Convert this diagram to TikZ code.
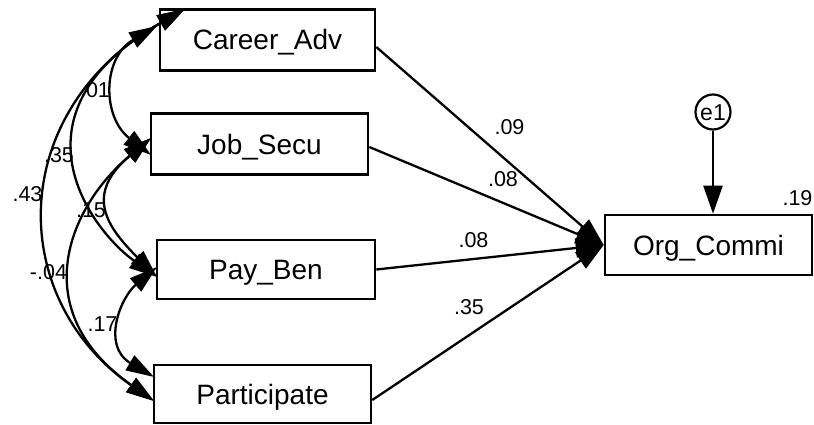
\documentclass[tikz,border=0pt]{standalone}
\usepackage{fontspec}
\setmainfont{Liberation Sans}
\usetikzlibrary{arrows.meta}
\begin{document}
\begin{tikzpicture}[x=1pt,y=-1pt,
  var/.style={draw, line width=2.6pt, rectangle, inner sep=0pt,
    text height=20pt, text depth=0pt, font=\fontsize{28}{30}\selectfont},
  err/.style={draw, line width=2.2pt, circle, inner sep=0pt, minimum size=35pt,
    text height=16.5pt, text depth=0pt, font=\fontsize{23}{25}\selectfont},
  coef/.style={inner sep=0pt, text height=15.5pt, text depth=0pt,
    font=\fontsize{21.5}{24}\selectfont},
  regarrow/.style={line width=2.3pt, -{Triangle[length=28pt,width=19pt]}},
  covarc/.style={line width=2.3pt,
    {Triangle[length=28pt,width=17pt]}-{Triangle[length=28pt,width=17pt]}},
]
\useasboundingbox (0,0) rectangle (814,425);

% observed variables
\node[var, minimum width=215pt, minimum height=61pt] (CA) at (267.5,40) {Career\_Adv};
\node[var, minimum width=217pt, minimum height=61pt] (JS) at (259.5,144) {Job\_Secu};
\node[var, minimum width=218pt, minimum height=59pt] (PB) at (266,269.5) {Pay\_Ben};
\node[var, minimum width=217pt, minimum height=58pt] (PA) at (262.5,394) {Participate};
\node[var, minimum width=207pt, minimum height=60pt] (OC) at (708.5,245) {Org\_Commi};
% error term
\node[err] (E1) at (713,112) {e1};

% regression paths
\draw[regarrow] ([yshift=-7pt]CA.east) -- (OC.west);
\draw[regarrow] ([yshift=-3pt]JS.east) -- (OC.west);
\draw[regarrow] (PB.east) -- (OC.west);
\draw[regarrow] ([yshift=-6pt]PA.east) -- (OC.west);
\draw[regarrow] (E1.south) -- (E1.south |- OC.north);

% end points of the covariance arcs on the left sides
\coordinate (caL) at (157,26);
\coordinate (caH) at (185,9);
\coordinate (jsT) at (151,138);
\coordinate (jsB) at (151,155);
\coordinate (pbT) at (157,267);
\coordinate (pbB) at (157,277);
\coordinate (paT) at (154,377);
\coordinate (paB) at (154,401);

% covariances
\draw[covarc] (caL) .. controls (102,58) and (102,117) .. (jsB);
\draw[covarc] (caH) .. controls (2,114) and (92,231) .. (pbB);
\draw[covarc] (caH) .. controls (6,111) and (6,298) .. (paB);
\draw[covarc] (jsT) .. controls (83.6,194.6) and (107,227) .. (pbB);
\draw[covarc] (jsT) .. controls (67.5,208) and (25.5,311) .. (paB);
\draw[covarc] (pbT) .. controls (120,298) and (101.5,346) .. (paT);

% coefficients
\node[coef] (c1) at (95,89.5) {.01};
\node[coef] (c2) at (59,155) {.35};
\node[coef] (c3) at (27.5,193.5) {.43};
\node[coef] (c4) at (91,210) {.15};
\node[coef] (c5) at (48.5,272) {-.04};
\node[coef] (c6) at (102.5,323.5) {.17};
\node[coef] (r1) at (509.5,126.5) {.09};
\node[coef] (r2) at (503,178.5) {.08};
\node[coef] (r3) at (473.5,240) {.08};
\node[coef] (r4) at (469,307) {.35};
\node[coef] (r5) at (797.5,197.5) {.19};
\end{tikzpicture}
\end{document}
